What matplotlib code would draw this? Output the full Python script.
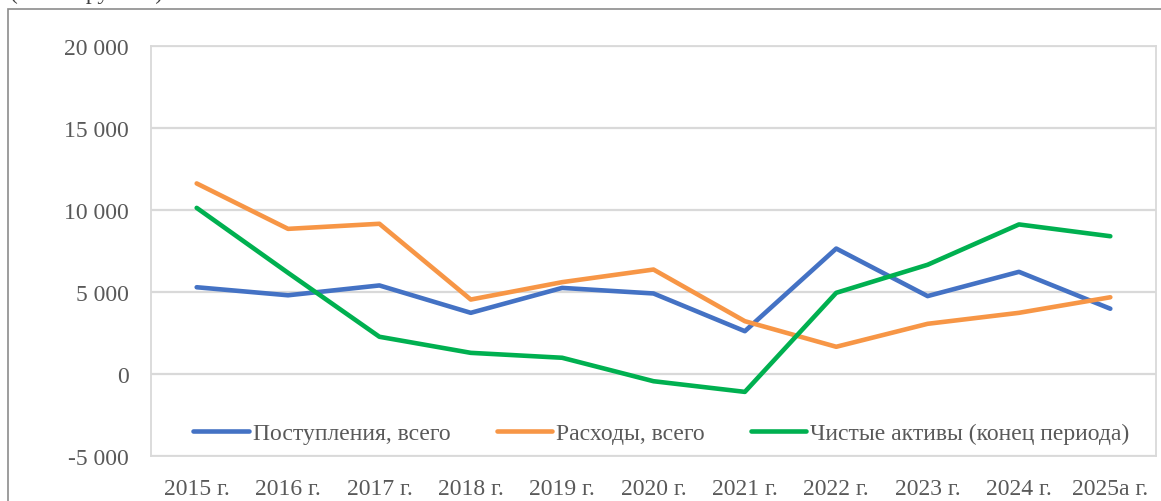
import matplotlib.pyplot as plt
import matplotlib.patches as patches
from matplotlib.ticker import FuncFormatter, MultipleLocator

years = ["2015 г.", "2016 г.", "2017 г.", "2018 г.", "2019 г.", "2020 г.",
         "2021 г.", "2022 г.", "2023 г.", "2024 г.", "2025а г."]
receipts = [5290, 4800, 5400, 3730, 5250, 4910, 2610, 7650, 4750, 6230, 3980]
expenses = [11620, 8850, 9160, 4540, 5600, 6370, 3220, 1660, 3060, 3730, 4680]
net_assets = [10130, 6170, 2270, 1290, 990, -440, -1090, 4950, 6660, 9120, 8400]

plt.rcParams["font.family"] = ["Liberation Serif", "DejaVu Serif"]

W, H = 1161, 502
fig = plt.figure(figsize=(W / 100, H / 100), dpi=100)
# outer chart border (cut at right/bottom like the screenshot)
fig.patches.append(patches.Rectangle((8 / W, -0.1), 1.2, 1 - 10 / H + 0.1,
                                     transform=fig.transFigure, fill=False,
                                     edgecolor="#8c8c8c", lw=1.2))
fig.text(10 / W, 1 - 4 / H, "(в млн. рублей)", fontsize=17, color="#404040",
         va="bottom", ha="left")

ax = fig.add_axes([151 / W, (H - 457) / H, (1156 - 151) / W, (457 - 47) / H])
x = range(len(years))
ax.plot(x, receipts, color="#4472C4", lw=3.3, solid_capstyle="round",
        label="Поступления, всего")
ax.plot(x, expenses, color="#F79646", lw=3.3, solid_capstyle="round",
        label="Расходы, всего")
ax.plot(x, net_assets, color="#00B050", lw=3.3, solid_capstyle="round",
        label="Чистые активы (конец периода)")

ax.set_xlim(-0.5, len(years) - 0.5)
ax.set_ylim(-5000, 20000)
ax.yaxis.set_major_locator(MultipleLocator(5000))
ax.yaxis.set_major_formatter(FuncFormatter(
    lambda v, p: f"{int(v):,}".replace(",", " ")))
ax.set_xticks(list(x))
ax.set_xticklabels(years)
ax.tick_params(length=0, labelsize=17, colors="#595959")
ax.tick_params(axis="y", pad=16)
ax.tick_params(axis="x", pad=16)
ax.grid(axis="y", color="#d9d9d9", lw=1.6)
ax.set_axisbelow(True)
for s in ax.spines.values():
    s.set_color("#d9d9d9")
    s.set_linewidth(1.3)

ax.legend(loc="lower center", bbox_to_anchor=(0.508, -0.022), ncol=3,
          frameon=False, fontsize=17, handlelength=2.35, handletextpad=0.17,
          columnspacing=1.95, labelcolor="#595959")

fig.savefig("out.png", dpi=100)
